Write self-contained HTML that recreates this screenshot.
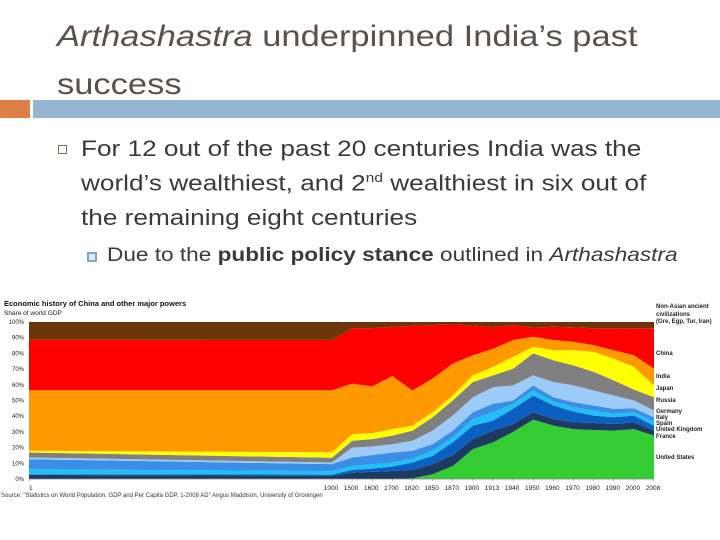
<!DOCTYPE html>
<html><head><meta charset="utf-8">
<style>
body{margin:0;width:720px;height:540px;background:#fff;overflow:hidden;position:relative;font-family:"Liberation Sans",sans-serif}
.t{position:absolute;white-space:nowrap;transform-origin:0 50%}
#title{left:57px;top:13px;font-size:30px;color:#5b504b;line-height:48px;transform:scaleX(1.15);transform-origin:0 0}
.b{font-size:22px;color:#3a3a3a;left:81px;transform:scaleX(1.19)}
</style></head><body>
<div class="t" id="title"><i>Arthashastra</i> underpinned India’s past<br>success</div>
<div style="position:absolute;left:0;top:100px;width:30px;height:18px;background:#dd8047"></div>
<div style="position:absolute;left:33px;top:100px;width:687px;height:18px;background:#94b6d2"></div>
<div style="position:absolute;left:58px;top:145px;width:7px;height:7px;border:1px solid #8a6a50"></div>
<div class="t b" style="top:136px">For 12 out of the past 20 centuries India was the</div>
<div class="t b" style="top:170px">world’s wealthiest, and 2<sup style="font-size:13px">nd</sup> wealthiest in six out of</div>
<div class="t b" style="top:205px">the remaining eight centuries</div>
<div style="position:absolute;left:87px;top:252px;width:6px;height:6px;border:2px solid #7fa6c9;background:#dbe8f3"></div>
<div class="t" style="left:107px;top:245px;font-size:19px;color:#3a3a3a;transform:scaleX(1.19)">Due to the <b>public policy stance</b> outlined in <i>Arthashastra</i></div>
<svg id="chart" width="720" height="540" style="position:absolute;left:0;top:0"></svg>
<script>
const years=["1","1000","1500","1600","1700","1820","1850","1870","1900","1913","1940","1950","1960","1970","1980","1990","2000","2008"];
const unitedStates=[0,0,0,0,0,0.4,3,8.3,19,23.3,30,37.8,34,31.8,31.2,30.8,31.8,27.6];
const france=[2.6,2,4,4.5,5.1,5.4,6.4,6.9,6.4,7.5,5,4.7,4.2,4.3,4.5,4.2,4.3,3.2];
const unitedKingdom=[0.4,0.8,1.8,2.1,2.8,4.7,5.3,8.1,8.6,6.4,9.7,10.7,8.6,6.9,4.7,4.3,4.3,3.2];
const spain=[3.2,2.2,2.5,2.8,2.6,2.5,3.3,3.2,4.2,5.3,3.2,3.2,2.6,2.7,3.2,2.2,2.1,2.5];
const italy=[6.4,4.5,5.4,5.8,6.4,5,4.2,4.3,4.3,5.4,2.1,3.2,2.7,3.3,3.2,3.2,2.5,2.8];
const germany=[1.1,1,6.3,5.5,5.3,6.4,8.6,9.6,9.6,10.6,9.6,6.4,9.7,10.6,9.6,8.5,5,4.3];
const russia=[3.2,3,4.4,4.7,5.4,6.4,8.5,9.6,9.7,7.5,10.7,14,13.8,12.8,11.8,9.6,7,8.5];
const japan=[1.1,3.5,4.2,3.9,4.2,3.2,3.2,3.2,4.2,5.4,7.5,4.2,6.4,9.6,12.8,13.9,14.4,7.5];
const india=[38.5,39.5,32.1,29.7,33.8,22.4,21.5,20.3,12.8,11.6,10.7,6.4,6.5,5.4,4.3,5.3,7.4,10.7];
const china=[32.2,32.1,35.3,37.1,31.4,41.2,34,25,19,13.8,9.5,5.8,8.5,9.2,10.7,14,17.2,25.7];
const nonAsian=[11.3,11.4,4,3.9,3,2.4,2,1.5,2.2,3.2,2,3.6,3,3.4,4,4,4,4];
const yTicks=["0%","10%","20%","30%","40%","50%","60%","70%","80%","90%","100%"];
const seriesNames=["united-states","france","united-kingdom","spain","italy","germany","russia","japan","india","china","non-asian"];
const NS="http://www.w3.org/2000/svg";
const svg=document.getElementById('chart');
const X0=29,X1=332,XR=654,Y0=479,Y100=322;
function xs(i){return i===0?X0:X1+(i-1)*(XR-X1)/(years.length-2);}
function ys(v){return Y0-(v/100)*(Y0-Y100);}
function mk(tag,attrs,text){const e=document.createElementNS(NS,tag);for(const k in attrs)e.setAttribute(k,attrs[k]);if(text!==undefined)e.textContent=text;svg.appendChild(e);return e;}
const series=[unitedStates,france,unitedKingdom,spain,italy,germany,russia,japan,india,china,nonAsian];
const colors=["#33cc33","#1d3a60","#0a5fc0","#1ec0f5","#3b8ee8","#9dcbf7","#808080","#ffff00","#ff9900","#ff0000","#6b3608"];
let base=years.map(()=>0);
series.forEach((s,k)=>{
  const top=base.map((b,i)=>b+s[i]);
  let d="";
  top.forEach((v,i)=>{d+=(i?"L":"M")+xs(i)+","+ys(v);});
  for(let i=years.length-1;i>=0;i--)d+="L"+xs(i)+","+ys(base[i]);
  const p=mk('path',{d:d+"Z",fill:colors[k]});
  
  
  base=top;
});
const ax=mk('line',{x1:X0,x2:XR,y1:Y0,y2:Y0,stroke:'#888','stroke-width':0.7});


yTicks.forEach((t,i)=>{
  const e=mk('text',{x:24,y:ys(i*10)+2,'font-size':6,'text-anchor':'end',fill:'#222'},t);
  
  
});
years.forEach((t,i)=>{
  const e=mk('text',{x:xs(i)+(i===0?0:-1),y:490,'font-size':6.5,'text-anchor':i===0?'start':'middle',fill:'#222'},t);
  
  
  const tk=mk('line',{x1:xs(i),x2:xs(i),y1:Y0,y2:Y0+2,stroke:'#888','stroke-width':0.6});
  
  
});
const legend=[["Non-Asian ancient",308],["civilizations",316],["(Gre, Egp, Tur, Iran)",323],["China",355],["India",378],["Japan",390],["Russia",402],["Germany",413],["Italy",419],["Spain",425],["United Kingdom",431],["France",438],["United States",459]];
legend.forEach(l=>{
  const e=mk('text',{x:656,y:l[1],'font-size':6,'font-weight':'bold',fill:'#222'},l[0]);
  
  
});
let e=mk('text',{x:4,y:306,'font-size':7.5,'font-weight':'bold',fill:'#111'},'Economic history of China and other major powers');


e=mk('text',{x:4,y:315,'font-size':6.5,fill:'#222'},'Share of world GDP');


e=mk('text',{x:1,y:497,'font-size':6,fill:'#333'},'Source: "Statistics on World Population, GDP and Per Capita GDP, 1-2008 AD" Angus Maddison, University of Groningen');


</script>
</body></html>
